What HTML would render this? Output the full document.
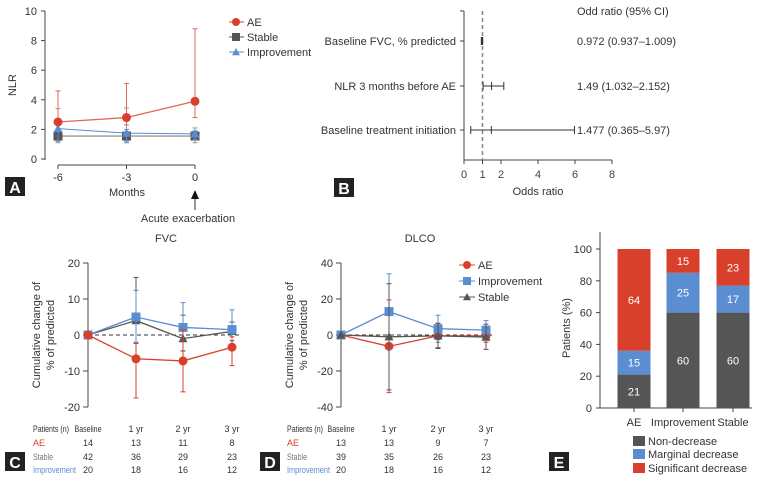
<!DOCTYPE html>
<html><head><meta charset="utf-8"><style>
html,body{margin:0;padding:0;background:#fff;width:774px;height:481px;overflow:hidden}
svg{display:block;font-family:"Liberation Sans",sans-serif}
</style></head><body>
<svg id="fig" width="774" height="481" viewBox="0 0 774 481" xmlns="http://www.w3.org/2000/svg"></svg>
<script>
// ---- Panel A data
const aMonths=[-6,-3,0];
const aAE=[2.5,2.8,3.9];
const aAEhi=[4.6,5.1,8.8];
const aAElo=[2.4,2.3,2.8];
const aStable=[1.55,1.55,1.55];
const aStablehi=[3.4,3.45,2.1];
const aStablelo=[1.1,1.2,1.1];
const aImp=[2.05,1.75,1.7];
const aImphi=[2.3,2.0,1.9];
const aImplo=[1.2,1.1,1.3];
const aYTicks=[0,2,4,6,8,10];
// ---- Panel B data
const bLabels=["Baseline FVC, % predicted","NLR 3 months before AE","Baseline treatment initiation"];
const bOR=[0.972,1.49,1.477];
const bLo=[0.937,1.032,0.365];
const bHi=[1.009,2.152,5.97];
const bText=["0.972 (0.937–1.009)","1.49 (1.032–2.152)","1.477 (0.365–5.97)"];
const bXTicks=[0,1,2,4,6,8];
// ---- Panel C (FVC)
const cAE=[0,-6.6,-7.2,-3.4];
const cAEhi=[0,-2.3,1.5,-0.5];
const cAElo=[0,-17.5,-15.8,-8.5];
const cImp=[0,5,2.1,1.5];
const cImphi=[0,12.4,9,7];
const cImplo=[0,-2,-4.5,-3];
const cSt=[0,4,-1,1];
const cSthi=[0,16,5.5,3.6];
const cStlo=[0,-2.3,-4.4,-1.6];
// ---- Panel D (DLCO)
const dAE=[0,-6.3,-0.5,-0.5];
const dAEhi=[0,19.5,6.5,4];
const dAElo=[0,-32,-7,-4];
const dImp=[0,13,3.5,2.7];
const dImphi=[0,34,11,8];
const dImplo=[0,-8,-4,-2];
const dSt=[0,-1,-0.5,-1.2];
const dSthi=[0,28.5,6.5,6];
const dStlo=[0,-30.5,-7.5,-8];
const cdCols=["Baseline","1 yr","2 yr","3 yr"];
const cN_AE=[14,13,11,8],cN_St=[42,36,29,23],cN_Imp=[20,18,16,12];
const dN_AE=[13,13,9,7],dN_St=[39,35,26,23],dN_Imp=[20,18,16,12];
const cYTicks=[-20,-10,0,10,20];
const dYTicks=[-40,-20,0,20,40];
// ---- Panel E
const eCats=["AE","Improvement","Stable"];
const eNon=[21,60,60];
const eMarg=[15,25,17];
const eSig=[64,15,23];
const eYTicks=[0,20,40,60,80,100];

const RED="#d9402c",BLUE="#5b8dd1",GRAY="#555",DARK="#444";
const svg=document.getElementById('fig');
const NS="http://www.w3.org/2000/svg";
function el(tag,attrs,parent,txt){const e=document.createElementNS(NS,tag);for(const k in attrs)e.setAttribute(k,attrs[k]);if(txt!==undefined)e.textContent=txt;(parent||svg).appendChild(e);return e;}
function grp(name){const g=el('g',{});return g;}
function label(x,y,str,size,anchor,fill,g,name,len){const a={x:x,y:y,'font-size':size,'text-anchor':anchor||'middle',fill:fill||'#333'};if(len){a.textLength=len;a.lengthAdjust='spacingAndGlyphs';}const t=el('text',a,g,str);return t;}
function panelBox(x,y,letter,name){const g=grp(name);el('rect',{x:x,y:y,width:20,height:19,fill:'#222'},g);el('text',{x:x+10,y:y+16,'font-size':16,'font-weight':'bold','text-anchor':'middle',fill:'#fff'},g,letter);}
function marker(type,x,y,color,g,s){
  if(type==='c')el('circle',{cx:x,cy:y,r:s||4.5,fill:color},g);
  else if(type==='s'){const r=s||4.5;el('rect',{x:x-r,y:y-r,width:2*r,height:2*r,fill:color},g);}
  else{const r=s||4.5;el('polygon',{points:`${x},${y-r} ${x+r},${y+r*0.8} ${x-r},${y+r*0.8}`,fill:color},g);}
}
function series(xs,ys,hi,lo,X,Y,color,type,name,lw){
  const g=grp(name);
  xs.forEach((xv,i)=>{const x=X(xv);
    if(hi[i]!==ys[i]||lo[i]!==ys[i]){el('line',{x1:x,x2:x,y1:Y(hi[i]),y2:Y(lo[i]),stroke:color,'stroke-width':1},g);
      el('line',{x1:x-2.5,x2:x+2.5,y1:Y(hi[i]),y2:Y(hi[i]),stroke:color,'stroke-width':1},g);
      el('line',{x1:x-2.5,x2:x+2.5,y1:Y(lo[i]),y2:Y(lo[i]),stroke:color,'stroke-width':1},g);}
  });
  el('polyline',{points:xs.map((xv,i)=>X(xv)+','+Y(ys[i])).join(' '),fill:'none',stroke:color,'stroke-width':lw||1.3},g);
  xs.forEach((xv,i)=>marker(type,X(xv),Y(ys[i]),color,g));
  return g;
}

// ================= Panel A
(function(){
  const Y=v=>159-v*14.8, X=m=>195+m*(137/6);
  const ax=grp('panel-a-axes');
  el('line',{x1:45,x2:45,y1:11,y2:160,stroke:DARK},ax);
  aYTicks.forEach(t=>{el('line',{x1:41,x2:45,y1:Y(t),y2:Y(t),stroke:DARK},ax);label(37,Y(t)+4,t,11,'end',null,ax,'y-tick-label');});
  el('line',{x1:58,x2:195,y1:165,y2:165,stroke:DARK},ax);
  aMonths.forEach(m=>{el('line',{x1:X(m),x2:X(m),y1:165,y2:169,stroke:DARK},ax);label(X(m),181,m,11,'middle',null,ax,'x-tick-label');});
  label(127,196,'Months',11,'middle',null,ax,'x-axis-title');
  const yt=label(16,85,'NLR',11,'middle',null,ax,'y-axis-title');yt.setAttribute('transform','rotate(-90 16 85)');
  series(aMonths,aStable,aStablehi,aStablelo,X,Y,'#999','s','series-stable',1.3).querySelectorAll('rect').forEach(r=>r.setAttribute('fill','#555'));
  series(aMonths,aImp,aImphi,aImplo,X,Y,BLUE,'t','series-improvement',1);
  series(aMonths,aAE,aAEhi,aAElo,X,Y,'#e06a5a','c','series-ae',1.3).querySelectorAll('circle').forEach(c=>c.setAttribute('fill',RED));
  const ar=grp('ae-arrow');el('line',{x1:195,x2:195,y1:197,y2:210,stroke:'#333'},ar);el('polygon',{points:'191,199 199,199 195,190',fill:'#111'},ar);
  label(188,222,'Acute exacerbation',11,'middle',null,ar,'arrow-label');
  const lg=grp('legend-a');
  [['AE',RED,'c',22],['Stable',GRAY,'s',37],['Improvement',BLUE,'t',52]].forEach(d=>{const e=grp('legend-entry');lg.appendChild(e);el('line',{x1:229,x2:244,y1:d[3],y2:d[3],stroke:d[1]},e);marker(d[2],236,d[3],d[1],e,4);label(247,d[3]+4,d[0],11,'start',null,e,'legend-label');});
  panelBox(5,177,'A','panel-label-a');
})();

// ================= Panel B
(function(){
  const X=v=>464+v*18.5, rows=[41,86,130];
  const ax=grp('panel-b-axes');
  el('line',{x1:464,x2:464,y1:11,y2:160,stroke:DARK},ax);
  el('line',{x1:460,x2:464,y1:11,y2:11,stroke:DARK},ax);
  el('line',{x1:464,x2:612,y1:160,y2:160,stroke:DARK},ax);
  bXTicks.forEach(t=>{el('line',{x1:X(t),x2:X(t),y1:160,y2:164,stroke:DARK},ax);label(X(t),178,t,11,'middle','#444',ax,'x-tick-label');});
  label(538,195,'Odds ratio',11,'middle',null,ax,'x-axis-title');
  el('line',{x1:X(1),x2:X(1),y1:11,y2:160,stroke:'#888','stroke-width':1.5,'stroke-dasharray':'4,3'},ax);
  label(577,15,'Odd ratio (95% CI)',11,'start',null,ax,'column-header');
  bLabels.forEach((lab,i)=>{const y=rows[i];const g=grp('forest-row');
    el('line',{x1:460,x2:464,y1:y,y2:y,stroke:DARK},g);
    label(456,y+4,lab,11,'end',null,g,'row-label');
    el('line',{x1:X(bLo[i]),x2:X(bHi[i]),y1:y,y2:y,stroke:'#333'},g);
    [bLo[i],bHi[i],bOR[i]].forEach(v=>el('line',{x1:X(v),x2:X(v),y1:y-4,y2:y+4,stroke:'#333'},g));
    label(577,y+4,bText[i],11,'start',null,g,'or-value');
  });
  panelBox(334,178,'B','panel-label-b');
})();

// ================= Panels C and D
function linePanel(opt){
  const Y=v=>335-v*opt.ys, X=i=>opt.xs[i];
  const ax=grp(opt.name+'-axes');
  el('line',{x1:opt.ax,x2:opt.ax,y1:263,y2:407,stroke:DARK},ax);
  opt.ticks.forEach(t=>{el('line',{x1:opt.ax-5,x2:opt.ax,y1:Y(t),y2:Y(t),stroke:DARK},ax);label(opt.ax-8,Y(t)+4,t,11,'end',null,ax,'y-tick-label');});
  el('line',{x1:opt.ax,x2:opt.xs[3]+8,y1:335,y2:335,stroke:'#333','stroke-dasharray':'4,3'},ax);
  label(opt.tx,242,opt.title,11,'middle',null,ax,'chart-title');
  const t1=label(opt.ax-48,335,'Cumulative change of',11,'middle',null,ax,'y-axis-title');t1.setAttribute('transform',`rotate(-90 ${opt.ax-48} 335)`);
  const t2=label(opt.ax-34,335,'% of predicted',11,'middle',null,ax,'y-axis-title');t2.setAttribute('transform',`rotate(-90 ${opt.ax-34} 335)`);
  const idx=[0,1,2,3];
  opt.order.forEach(s=>series(idx,s.v,s.hi,s.lo,X,Y,s.c,s.m,s.n));
  const tb=grp(opt.name+'-table');
  label(opt.lx,432,'Patients (n)',9,'start','#333',tb,'table-header',36);
  opt.xs.forEach((x,i)=>{label(x,432,cdCols[i],9,'middle','#333',tb,'col-header',i===0?27:null);
    label(x,446,opt.nAE[i],9,'middle','#333',tb,'cell');label(x,460,opt.nSt[i],9,'middle','#333',tb,'cell');label(x,473,opt.nImp[i],9,'middle','#333',tb,'cell');});
  label(opt.lx,446,'AE',9,'start',RED,tb,'row-label-ae');
  label(opt.lx,460,'Stable',9,'start','#777',tb,'row-label-stable',20);
  label(opt.lx,473,'Improvement',9,'start',BLUE,tb,'row-label-improvement',43);
}
linePanel({name:'panel-c',ax:88,xs:[88,136,183,232],ys:72/20,ticks:cYTicks,tx:166,title:'FVC',lx:33,
  order:[{v:cSt,hi:cSthi,lo:cStlo,c:GRAY,m:'t',n:'series-stable'},{v:cImp,hi:cImphi,lo:cImplo,c:BLUE,m:'s',n:'series-improvement'},{v:cAE,hi:cAEhi,lo:cAElo,c:RED,m:'c',n:'series-ae'}],
  nAE:cN_AE,nSt:cN_St,nImp:cN_Imp});
panelBox(5,452,'C','panel-label-c');
linePanel({name:'panel-d',ax:341,xs:[341,389,438,486],ys:72/40,ticks:dYTicks,tx:420,title:'DLCO',lx:287,
  order:[{v:dAE,hi:dAEhi,lo:dAElo,c:RED,m:'c',n:'series-ae'},{v:dImp,hi:dImphi,lo:dImplo,c:BLUE,m:'s',n:'series-improvement'},{v:dSt,hi:dSthi,lo:dStlo,c:GRAY,m:'t',n:'series-stable'}],
  nAE:dN_AE,nSt:dN_St,nImp:dN_Imp});
(function(){const lg=grp('legend-d');
  [['AE',RED,'c',265],['Improvement',BLUE,'s',281],['Stable',GRAY,'t',297]].forEach(d=>{const e=grp('legend-entry');lg.appendChild(e);el('line',{x1:459,x2:475,y1:d[3],y2:d[3],stroke:d[1]},e);marker(d[2],467,d[3],d[1],e,4);label(478,d[3]+4,d[0],11,'start',null,e,'legend-label');});
})();
panelBox(260,452,'D','panel-label-d');

// ================= Panel E
(function(){
  const Y=v=>408-v*1.59, xs=[634,683,733], w=33;
  const ax=grp('panel-e-axes');
  el('line',{x1:600,x2:600,y1:232,y2:408,stroke:DARK},ax);
  el('line',{x1:600,x2:752,y1:408,y2:408,stroke:DARK},ax);
  eYTicks.forEach(t=>{el('line',{x1:596,x2:600,y1:Y(t),y2:Y(t),stroke:DARK},ax);label(592,Y(t)+4,t,11,'end',null,ax,'y-tick-label');});
  const yt=label(570,328,'Patients (%)',11,'middle',null,ax,'y-axis-title');yt.setAttribute('transform','rotate(-90 570 328)');
  eCats.forEach((c,i)=>{const x=xs[i];
    el('line',{x1:x,x2:x,y1:408,y2:412,stroke:DARK},ax);
    label(x,426,c,11,'middle',null,ax,'x-tick-label');
    let base=0;
    [[eNon[i],GRAY,'bar-non-decrease'],[eMarg[i],BLUE,'bar-marginal-decrease'],[eSig[i],RED,'bar-significant-decrease']].forEach(s=>{
      const r=el('rect',{x:x-w/2,y:Y(base+s[0]),width:w,height:Y(base)-Y(base+s[0]),fill:s[1]});
      
      const t=el('text',{x:x,y:(Y(base)+Y(base+s[0]))/2+4,'font-size':11,'text-anchor':'middle',fill:'#fff'},null,s[0]);
      
      base+=s[0];});
  });
  const lg=grp('legend-e');
  [['Non-decrease',GRAY,441],['Marginal decrease',BLUE,454],['Significant decrease',RED,468]].forEach(d=>{const e=grp('legend-entry');lg.appendChild(e);el('rect',{x:633,y:d[2]-5,width:12,height:10,fill:d[1]},e);label(648,d[2]+4,d[0],11,'start',null,e,'legend-label');});
  panelBox(549,452,'E','panel-label-e');
})();
</script>
</body></html>
